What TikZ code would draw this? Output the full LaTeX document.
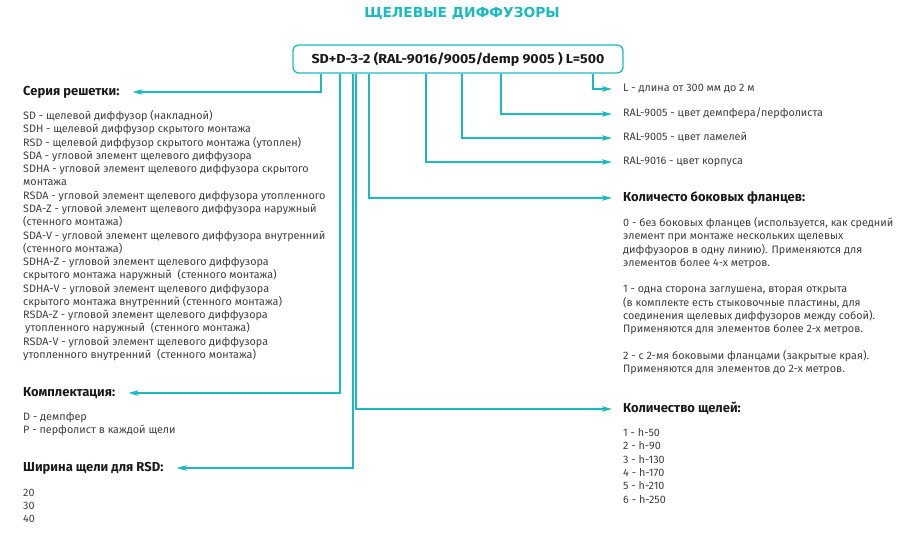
\documentclass[tikz,border=0pt]{standalone}
\usepackage{fontspec}
\setmainfont{Fira Sans}
\newfontfamily\boxfont[FakeStretch=1.09]{Fira Sans}
\newfontfamily\titlefont{DejaVu Sans}
\usetikzlibrary{arrows.meta}
\definecolor{teal1}{RGB}{27,186,190}
\definecolor{txtc}{RGB}{62,62,62}
\definecolor{headc}{RGB}{25,25,25}
\begin{document}
\begin{tikzpicture}[x=1pt,y=-1pt,
 conn/.style={draw=teal1,line width=1.3pt},
 arr/.style={conn,-{Stealth[length=10pt,width=5.5pt,inset=2.5pt]}},
 item/.style={anchor=west,inner sep=0pt,text height=7pt,text depth=2pt,font=\fontsize{10.8}{12}\selectfont,text=txtc},
 head/.style={anchor=west,inner sep=0pt,text height=9pt,text depth=2.5pt,font=\fontsize{13}{15}\selectfont\bfseries,text=headc}]
\useasboundingbox (0,0) rectangle (916,536);

\node[font=\titlefont\bfseries\fontsize{13.8}{15}\selectfont,text=teal1] (title) at (462,13) {ЩЕЛЕВЫЕ ДИФФУЗОРЫ};
\node[draw=teal1,line width=1.3pt,rounded corners=6pt,minimum width=330pt,minimum height=28pt,inner sep=0pt,
  font=\boxfont\bfseries\fontsize{13}{15}\selectfont,text=headc] (box) at (458,59) {SD+D-3-2 (RAL-9016/9005/demp 9005 ) L=500};

% left headings
\node[head] (serija) at (23,92) {Серия решетки:};
\node[head] (kompl) at (23,393) {Комплектация:};
\node[head] (shir) at (23,468) {Ширина щели для RSD:};

\foreach \t [count=\i from 0] in {
 {SD - щелевой диффузор (накладной)},
 {SDH - щелевой диффузор скрытого монтажа},
 {RSD - щелевой диффузор скрытого монтажа (утоплен)},
 {SDA - угловой элемент щелевого диффузора},
 {SDHA - угловой элемент щелевого диффузора скрытого},
 {монтажа},
 {RSDA - угловой элемент щелевого диффузора утопленного},
 {SDA-Z - угловой элемент щелевого диффузора наружный},
 {(стенного монтажа)},
 {SDA-V - угловой элемент щелевого диффузора внутренний},
 {(стенного монтажа)},
 {SDHA-Z - угловой элемент щелевого диффузора},
 {скрытого монтажа наружный\ \ (стенного монтажа)},
 {SDHA-V - угловой элемент щелевого диффузора},
 {скрытого монтажа внутренний (стенного монтажа)},
 {RSDA-Z - угловой элемент щелевого диффузора},
 {\hspace{2pt}утопленного наружный\ \ (стенного монтажа)},
 {RSDA-V - угловой элемент щелевого диффузора},
 {утопленного внутренний\ \ (стенного монтажа)}}
 \node[item] (ser\i) at (23,{117+13.28*\i}) {\t};

\node[item] (kd) at (23,418) {D - демпфер};
\node[item] (kp) at (23,431) {P - перфолист в каждой щели};
\node[item] (w20) at (23,494) {20};
\node[item] (w30) at (23,507) {30};
\node[item] (w40) at (23,520) {40};

% right column
\node[item] (lnode) at (623,89) {L - длина от 300 мм до 2 м};
\node[item] (rdemp) at (623,114) {RAL-9005 - цвет демпфера/перфолиста};
\node[item] (rlam) at (623,138) {RAL-9005 - цвет ламелей};
\node[item] (rkorp) at (623,162) {RAL-9016 - цвет корпуса};
\node[head] (flan) at (623,198) {Количесто боковых фланцев:};
\foreach \k/\t in {
 0/{0 - без боковых фланцев (используется, как средний},
 1/{элемент при монтаже нескольких щелевых},
 2/{диффузоров в одну линию). Применяются для},
 3/{элементов более 4-х метров.},
 5/{1 - одна сторона заглушена, вторая открыта},
 6/{(в комплекте есть стыковочные пластины, для},
 7/{соединения щелевых диффузоров между собой).},
 8/{Применяются для элементов более 2-х метров.},
 10/{2 - с 2-мя боковыми фланцами (закрытые края).},
 11/{Применяются для элементов до 2-х метров.}}
 \node[item] (fl\k) at (623,{224+13.25*\k}) {\t};

\node[head] (shel) at (623,409) {Количество щелей:};
\foreach \t [count=\i from 0] in {1 - h-50,2 - h-90,3 - h-130,4 - h-170,5 - h-210,6 - h-250}
 \node[item] (sh\i) at (623,{434+13.3*\i}) {\t};

% connectors
\draw[arr] (box.south -| 321,0) |- ([xshift=13pt]serija.east);
\draw[arr] (box.south -| 340,0) |- ([xshift=13pt]kompl.east);
\draw[arr] (box.south -| 353,0) |- ([xshift=13pt]shir.east);
\draw[arr] (box.south -| 356,0) |- ([xshift=-11pt]shel.west);
\draw[arr] (box.south -| 369,0) |- ([xshift=-11pt]flan.west);
\draw[arr] (box.south -| 426,0) |- ([xshift=-11pt]rkorp.west);
\draw[arr] (box.south -| 462,0) |- ([xshift=-11pt]rlam.west);
\draw[arr] (box.south -| 501,0) |- ([xshift=-11pt]rdemp.west);
\draw[arr] (box.south -| 593,0) |- ([xshift=-11pt]lnode.west);
\end{tikzpicture}
\end{document}
